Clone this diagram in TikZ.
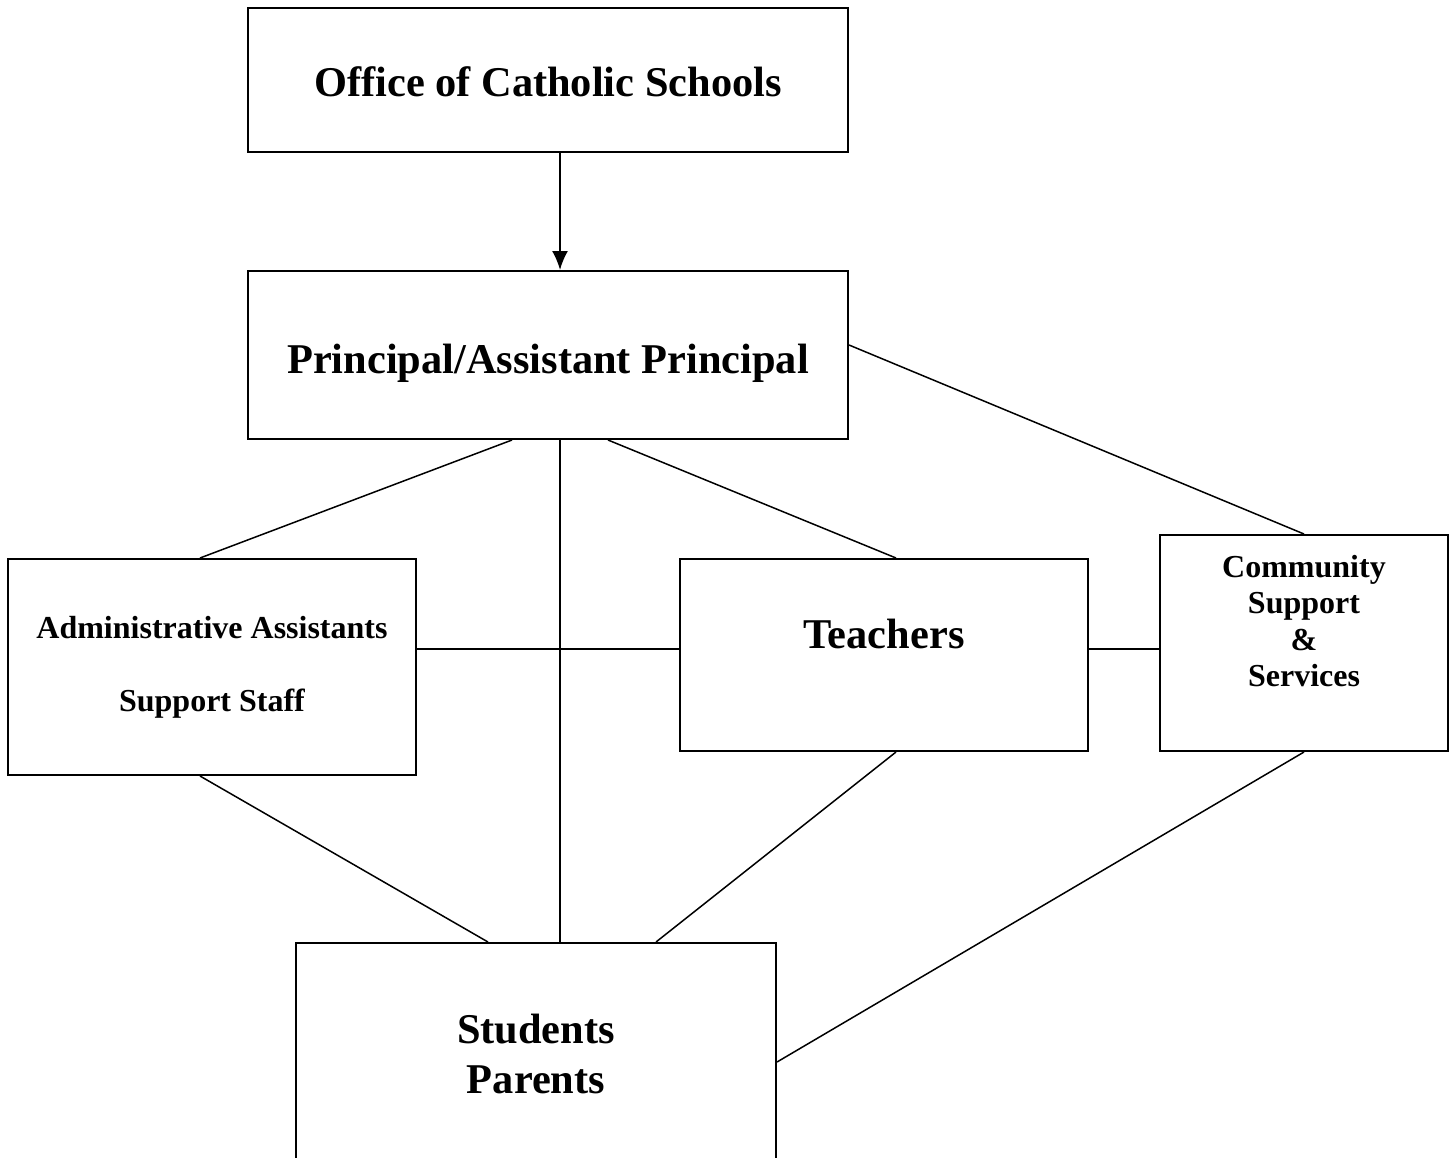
\documentclass[tikz,border=0pt]{standalone}
\usepackage{fontspec}
\setmainfont{Liberation Serif}
\usetikzlibrary{calc, positioning, arrows.meta}

\begin{document}
\begin{tikzpicture}[x=0.5pt, y=-0.5pt, >={Latex[length=9.5pt, width=8pt]},
    khung/.style={draw, line width=1pt, inner sep=0pt},
    chu/.style={font=\bfseries\fontsize{21.2}{25}\selectfont, align=center, inner sep=0pt},
    chunho/.style={font=\bfseries\fontsize{16}{18.3}\selectfont, align=center, inner sep=0pt},
    noi/.style={line width=0.75pt}]
    \useasboundingbox (0,0) rectangle (1455,1157);
    \clip (0,0) rectangle (1455,1157);

    % 1. Các khung
    \node[khung, minimum width=300pt, minimum height=72pt] (ocs) at (548,80) {};
    \node[khung, minimum width=300pt, minimum height=84pt] (pap) at (548,355) {};
    \node[khung, minimum width=204pt, minimum height=108pt] (admin) at (212,667) {};
    \node[khung, minimum width=204pt, minimum height=96pt] (teach) at (884,655) {};
    \node[khung, minimum width=144pt, minimum height=108pt] (comm) at (1304,643) {};
    \node[khung, minimum width=240pt, minimum height=150pt] (stud) at (536,1093) {};

    % 2. Chữ trong khung
    \node[chu] (t-ocs) at ($(ocs.center)+(0,2)$) {Office of Catholic Schools};
    \node[chu] (t-pap) at ($(pap.center)+(0,8)$) {Principal/Assistant Principal};
    \node[chunho] (t-admin) at ($(admin.center)+(0,0)$) {Administrative Assistants\\[18.2pt] Support Staff};
    \node[chu] (t-teach) at ($(teach.center)+(0,-21)$) {Teachers};
    \node[chunho] (t-comm) at ($(comm.center)+(0,-22)$) {Community\\ Support\\ \&\\ Services};
    \node[chu] (t-stud) at ($(stud.north)+(0,112)$) {Students\\ Parents};

    % 3. Mũi tên và các đường nối
    \draw[->, line width=1pt] ($(ocs.south)+(12,0)$) -- ($(pap.north)+(12,0)$);
    \draw[noi] ($(pap.south)+(-36,0)$) -- ($(admin.north)+(-12,0)$);
    \draw[noi] ($(pap.south)+(12,0)$) -- ($(stud.north)+(24,0)$);
    \draw[noi] ($(pap.south)+(60,0)$) -- ($(teach.north)+(12,0)$);
    \draw[noi] ($(pap.east)+(0,-10)$) -- (comm.north);
    \draw[noi] ($(admin.east)+(0,-18)$) -- ($(teach.west)+(0,-6)$);
    \draw[noi] ($(teach.east)+(0,-6)$) -- ($(comm.west)+(0,6)$);
    \draw[noi] ($(admin.south)+(-12,0)$) -- ($(stud.north)+(-48,0)$);
    \draw[noi] ($(teach.south)+(12,0)$) -- ($(stud.north)+(120,0)$);
    \draw[noi] (comm.south) -- ($(stud.east)+(0,-31)$);
\end{tikzpicture}
\end{document}
